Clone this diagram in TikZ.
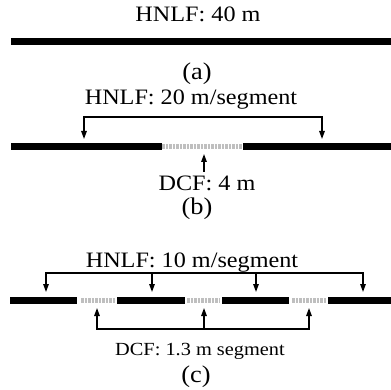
\documentclass[tikz,border=0pt]{standalone}
\usepackage{fontspec}
\setmainfont[FakeStretch=1.1]{Liberation Serif}
\usetikzlibrary{arrows.meta}

\begin{document}
\begin{tikzpicture}[x=1pt, y=-1pt,
    hnlf/.style={line width=7pt, black},
    dcf/.style={line width=5pt, black!25, dash pattern=on 2.5pt off 1pt},
    brace/.style={line width=1.4pt, {Triangle[length=8pt,width=5.5pt]}-{Triangle[length=8pt,width=5.5pt]}},
    tip/.style={line width=1.4pt, -{Triangle[length=8pt,width=5.5pt]}},
    lbl/.style={inner sep=0pt, font=\fontsize{22}{24}\selectfont},
    sublbl/.style={inner sep=0pt, font=\fontsize{24}{26}\selectfont}]
    \useasboundingbox (0,0) rectangle (391,390);
    % (a) one piece of fibre
    \node (titleA) at (198,14) [lbl] {HNLF: 40 m};
    \draw[hnlf] (11,42) -- (391,42);
    \node (capA) at (197,74) [sublbl] {(a)};
    % (b) two pieces with one DCF in between
    \node (titleB) at (191,100) [lbl] {HNLF: 20 m/segment};
    \draw[hnlf] (11,147) -- (162,147);
    \draw[dcf] (162,147) -- (243,147);
    \draw[hnlf] (243,147) -- (391,147);
    \coordinate (bL) at (84,139);
    \coordinate (bR) at (322,139);
    \draw[brace] (bL) -- (84,117) -- (322,117) -- (bR);
    \coordinate (bD) at (204,154);
    \node (dcfB) at (207,183) [lbl] {DCF: 4 m};
    \draw[tip] (204,172) -- (bD);
    \node (capB) at (197,209) [sublbl] {(b)};
    % (c) four pieces with three DCF in between
    \node (titleC) at (192,263) [lbl] {HNLF: 10 m/segment};
    \draw[hnlf] (10,300) -- (77,300);
    \draw[dcf] (81,300) -- (115,300);
    \draw[hnlf] (117,300) -- (185,300);
    \draw[dcf] (187,300) -- (220,300);
    \draw[hnlf] (222,300) -- (289,300);
    \draw[dcf] (292,300) -- (326,300);
    \draw[hnlf] (328,300) -- (391,300);
    \coordinate (c1) at (46,292);
    \coordinate (c2) at (152,292);
    \coordinate (c3) at (256,292);
    \coordinate (c4) at (363,292);
    \draw[brace] (c1) -- (c1 |- 0,273) -- (c4 |- 0,273) -- (c4);
    \draw[tip] (c2 |- 0,273) -- (c2);
    \draw[tip] (c3 |- 0,273) -- (c3);
    \coordinate (d1) at (97,308);
    \coordinate (d2) at (204,308);
    \coordinate (d3) at (309,308);
    \draw[brace] (d1) -- (d1 |- 0,329) -- (d3 |- 0,329) -- (d3);
    \draw[tip] (d2 |- 0,329) -- (d2);
    \node (dcfC) at (200,351) [inner sep=0pt, font=\fontsize{18.5}{20}\selectfont] {DCF: 1.3 m segment};
    \node (capC) at (196,377) [sublbl] {(c)};
\end{tikzpicture}
\end{document}
